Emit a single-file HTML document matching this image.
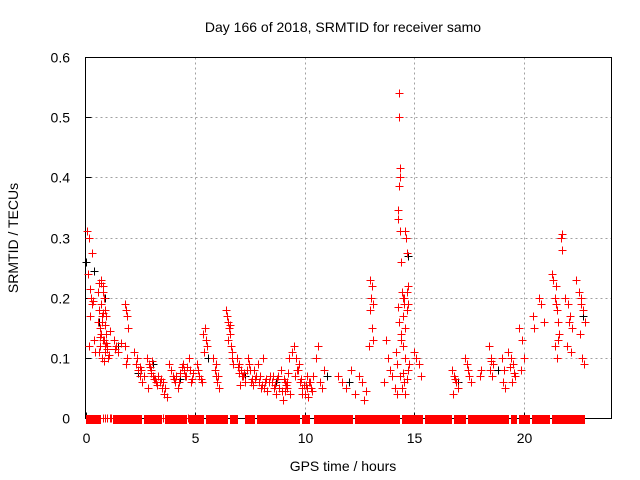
<!DOCTYPE html>
<html><head><meta charset="utf-8"><style>
html,body{margin:0;padding:0;background:#fff}
svg{display:block}
text{font-family:"Liberation Sans",sans-serif;fill:#000}
</style></head><body>
<svg id="chart" width="640" height="480" viewBox="0 0 640 480" xmlns="http://www.w3.org/2000/svg">
<text x="343" y="32" font-size="14" text-anchor="middle">Day 166 of 2018, SRMTID for receiver samo</text>
<text transform="translate(18,238) rotate(-90)" font-size="14" text-anchor="middle">SRMTID / TECUs</text>
<text x="343" y="471" font-size="14" text-anchor="middle">GPS time / hours</text>
<g id="grid" shape-rendering="crispEdges"></g>
<g id="ticks"></g>
<rect x="85.5" y="57.5" width="526" height="361" fill="none" stroke="#000" stroke-width="1" shape-rendering="crispEdges"/>
<g id="blackpts" shape-rendering="crispEdges"></g>
<g id="redpts" shape-rendering="crispEdges"></g>
</svg>
<script>
const xTicks=[0,5,10,15,20];
const yTicks=[0,0.1,0.2,0.3,0.4,0.5,0.6];
const yTickLabels=["0","0.1","0.2","0.3","0.4","0.5","0.6"];
const redT=[0.05,0.15,0.1,0.3,0.2,0.25,0.35,0.3,0.4,0.15,0.45,0.2,
0.6,0.7,0.8,0.85,0.9,0.95,0.75,0.65,0.7,0.8,0.9,0.6,0.75,0.85,0.95,1.0,0.7,0.8,0.9,0.65,1.05,1.1,
1.3,1.4,1.5,1.6,1.35,
1.8,1.85,1.9,1.95,1.8,1.9,1.85,
2.2,2.3,2.4,2.5,2.6,2.35,2.5,
2.8,2.9,3.0,3.1,3.2,2.85,3.05,3.15,
3.3,3.4,3.5,3.6,3.7,3.45,
3.8,3.9,4.0,4.1,4.2,4.3,4.4,4.05,
4.5,4.6,4.7,4.8,4.9,4.65,
5.1,5.2,5.3,5.4,5.5,5.45,5.35,5.55,
5.8,5.9,6.0,6.1,5.95,
6.4,6.5,6.55,6.6,6.65,6.7,6.75,6.5,
6.9,7.0,7.1,7.2,7.3,7.4,7.5,7.6,7.05,7.25,7.45,
7.7,7.8,7.9,8.0,8.1,8.2,8.3,8.4,7.85,8.05,8.25,
8.5,8.6,8.7,8.8,8.9,9.0,9.1,9.2,9.3,9.4,8.75,8.95,9.15,9.25,
9.5,9.6,9.7,9.8,9.9,10.0,10.1,10.2,10.3,9.75,9.95,10.15,
10.5,10.6,10.7,10.8,10.9,
11.5,11.7,11.9,12.1,12.3,
12.5,12.6,12.7,12.8,
13.0,13.05,13.1,13.0,13.05,13.1,12.95,
13.6,13.7,13.8,13.9,14.0,14.1,14.2,
14.3,14.32,14.34,14.36,14.3,14.25,14.28,14.35,14.4,14.45,14.5,14.55,14.6,14.62,14.65,14.7,14.65,14.3,14.4,14.5,14.6,14.7,14.35,14.55,14.45,14.6,14.7,14.4,14.25,14.5,14.65,14.75,
15.0,15.1,15.2,15.3,
16.7,16.8,16.9,17.0,16.75,
17.3,17.4,17.5,17.6,
18.0,18.05,
18.4,18.5,18.6,18.45,18.55,
19.0,19.1,19.05,19.15,
19.3,19.4,19.5,19.6,19.45,
19.8,19.9,20.0,19.85,
20.4,20.45,
20.7,20.8,20.9,
21.3,21.35,21.4,21.45,21.5,21.55,21.6,21.4,21.5,
21.7,21.72,21.75,
21.9,22.0,22.1,22.2,21.95,22.15,
22.4,22.5,22.6,22.7,22.8,22.55,22.65,22.75,
0.55,0.62,0.68,0.72,0.78,0.82,0.88,0.92,0.98,1.02,0.58,0.66,0.74,0.86,
2.55,2.65,2.95,3.0,3.12,3.25,3.55,3.65,4.15,4.25,4.45,4.55,4.75,4.85,
5.15,5.25,5.95,6.05,6.45,6.6,6.7,6.95,7.0,7.15,7.35,7.55,7.65,7.75,7.95,8.15,8.35,
8.55,8.65,8.85,9.05,9.1,9.2,9.35,9.55,9.65,9.85,10.05,10.25,10.35,10.4,9.9,10.1,
13.02,14.15,14.22,14.48,14.52,14.58,14.68,
16.85,17.45,18.5,19.35,19.55,21.45,21.58,22.05,22.6];
const redV=[0.31,0.30,0.24,0.275,0.215,0.2,0.195,0.19,0.13,0.12,0.11,0.17,
0.225,0.23,0.22,0.2,0.18,0.17,0.16,0.15,0.14,0.13,0.12,0.11,0.1,0.095,0.125,0.115,0.19,0.175,0.155,0.135,0.105,0.145,
0.13,0.12,0.11,0.125,0.115,
0.19,0.18,0.17,0.15,0.12,0.1,0.09,
0.11,0.09,0.08,0.07,0.06,0.1,0.085,
0.1,0.09,0.08,0.07,0.06,0.05,0.095,0.065,
0.07,0.06,0.05,0.04,0.035,0.065,
0.09,0.08,0.07,0.06,0.05,0.075,0.085,0.065,
0.08,0.07,0.1,0.06,0.075,0.085,
0.09,0.07,0.06,0.11,0.13,0.15,0.14,0.12,
0.1,0.08,0.06,0.05,0.07,
0.18,0.16,0.15,0.14,0.12,0.11,0.09,0.13,
0.1,0.09,0.08,0.07,0.06,0.1,0.08,0.065,0.055,0.075,0.09,
0.08,0.07,0.06,0.05,0.1,0.06,0.045,0.07,0.09,0.055,0.065,
0.06,0.05,0.04,0.07,0.08,0.03,0.06,0.05,0.1,0.11,0.065,0.045,0.055,0.075,
0.12,0.1,0.08,0.06,0.05,0.04,0.07,0.06,0.05,0.09,0.055,0.035,
0.1,0.12,0.06,0.05,0.08,
0.07,0.06,0.05,0.08,0.04,
0.07,0.06,0.03,0.045,
0.23,0.22,0.19,0.18,0.15,0.13,0.12,
0.06,0.13,0.1,0.08,0.07,0.05,0.04,
0.54,0.5,0.415,0.4,0.385,0.345,0.33,0.31,0.26,0.21,0.2,0.19,0.31,0.3,0.275,0.22,0.18,0.16,0.13,0.12,0.1,0.08,0.07,0.06,0.05,0.04,0.19,0.14,0.185,0.17,0.21,0.09,
0.11,0.1,0.09,0.07,
0.08,0.07,0.06,0.05,0.04,
0.1,0.09,0.07,0.06,
0.07,0.08,
0.12,0.1,0.09,0.08,0.07,
0.1,0.08,0.06,0.05,
0.11,0.1,0.09,0.07,0.06,
0.15,0.13,0.1,0.08,
0.17,0.15,
0.2,0.19,0.16,
0.24,0.23,0.2,0.19,0.18,0.16,0.14,0.12,0.1,
0.3,0.305,0.28,
0.2,0.19,0.17,0.15,0.12,0.11,
0.23,0.21,0.2,0.18,0.16,0.14,0.1,0.09,
0.21,0.18,0.15,0.225,0.21,0.13,0.11,0.14,0.12,0.1,0.16,0.12,0.17,0.13,
0.08,0.07,0.085,0.075,0.065,0.055,0.06,0.05,0.07,0.06,0.09,0.07,0.08,0.065,
0.08,0.065,0.09,0.07,0.17,0.155,0.1,0.085,0.075,0.07,0.08,0.06,0.055,0.065,0.07,0.05,0.06,
0.07,0.055,0.05,0.065,0.045,0.06,0.04,0.07,0.08,0.065,0.055,0.06,0.045,0.07,0.04,0.05,
0.2,0.11,0.09,0.075,0.2,0.15,0.065,
0.065,0.08,0.095,0.085,0.075,0.22,0.13,0.16,0.19];
const blackT=[0.0,0.4,0.6,0.9,1.5,2.4,3.1,4.3,5.6,7.3,8.7,9.9,11.0,12.0,14.7,17.0,18.8,21.7,22.7];
const blackV=[0.26,0.245,0.16,0.2,0.12,0.075,0.09,0.065,0.1,0.07,0.06,0.05,0.07,0.06,0.27,0.06,0.08,0.3,0.17];
// continuous runs of zero-valued samples (start / end hours)
const zeroStart=[0.0,1.27,2.67,3.61,4.73,5.48,6.6,7.26,7.82,9.88,10.44,12.31,14.46,15.49,16.8,17.46,19.42,19.8,20.36,21.3];
const zeroEnd=[0.71,2.58,3.5,4.64,5.39,6.51,6.98,7.73,9.78,10.25,12.22,14.37,15.4,16.71,17.36,19.33,19.7,20.27,21.2,22.79];
// isolated zero samples
const zeroT=[0.8,0.9,1.0,1.1,1.18,3.55,4.68];

const X0=85.5,X1=611.5,Y0=418.5,Y1=57.5;
const sx=t=>X0+(t/24)*(X1-X0);
const sy=v=>Y0-(v/0.6)*(Y0-Y1);
const NS="http://www.w3.org/2000/svg";
function mk(tag,parent){const e=document.createElementNS(NS,tag);parent.appendChild(e);return e;}
const grid=document.getElementById('grid'),ticks=document.getElementById('ticks');
xTicks.forEach(t=>{
  const x=Math.round(sx(t))+0.5;
  if(t>0){const g=mk('line',grid);
  
  
  g.setAttribute('x1',x);g.setAttribute('x2',x);g.setAttribute('y1',Y1);g.setAttribute('y2',Y0);
  g.setAttribute('stroke','#a0a0a0');g.setAttribute('stroke-dasharray','2,3');}
  const tk=mk('line',ticks);
  
  
  tk.setAttribute('x1',x);tk.setAttribute('x2',x);tk.setAttribute('y1',Y0);tk.setAttribute('y2',Y0-6);tk.setAttribute('stroke','#000');
  const lb=mk('text',ticks);
  
  
  lb.setAttribute('x',x);lb.setAttribute('y',443);lb.setAttribute('font-size','14');lb.setAttribute('text-anchor','middle');
  lb.textContent=String(t);
});
yTicks.forEach((v,i)=>{
  const y=Math.round(sy(v)-0.5)+0.5;
  if(v>0&&v<0.6){const g=mk('line',grid);
  
  
  g.setAttribute('x1',X0);g.setAttribute('x2',X1);g.setAttribute('y1',y);g.setAttribute('y2',y);
  g.setAttribute('stroke','#a0a0a0');g.setAttribute('stroke-dasharray','2,3');}
  const tk=mk('line',ticks);
  
  
  tk.setAttribute('x1',X0);tk.setAttribute('x2',X0+6);tk.setAttribute('y1',y);tk.setAttribute('y2',y);tk.setAttribute('stroke','#000');
  const lb=mk('text',ticks);
  
  
  lb.setAttribute('x',70);lb.setAttribute('y',y+5);lb.setAttribute('font-size','14');lb.setAttribute('text-anchor','end');
  lb.textContent=yTickLabels[i];
});
function plus(parent,t,v,color,name){
  const x=Math.round(sx(t))+0.5,y=Math.round(sy(v)-0.5)+0.5;
  const p=mk('path',parent);
  
  
  p.setAttribute('d',`M${x-4} ${y}H${x+4}M${x} ${y-4}V${y+4}`);
  p.setAttribute('stroke',color);p.setAttribute('stroke-width','1');p.setAttribute('fill','none');
}
const bp=document.getElementById('blackpts'),rp=document.getElementById('redpts');
blackT.forEach((t,i)=>plus(bp,t,blackV[i],'#000','black-point'));
redT.forEach((t,i)=>plus(rp,t,redV[i],'#f00','red-point'));
zeroStart.forEach((s,i)=>{
  const x1=Math.round(sx(s)),x2=Math.round(sx(zeroEnd[i]));
  const r=mk('rect',rp);
  
  
  r.setAttribute('x',x1);r.setAttribute('y',Math.round(sy(0))-4);
  r.setAttribute('width',Math.max(1,x2-x1));r.setAttribute('height',9);
  r.setAttribute('fill','#f00');
});
zeroT.forEach(t=>plus(rp,t,0,'#f00','zero-point'));
</script>
</body></html>
